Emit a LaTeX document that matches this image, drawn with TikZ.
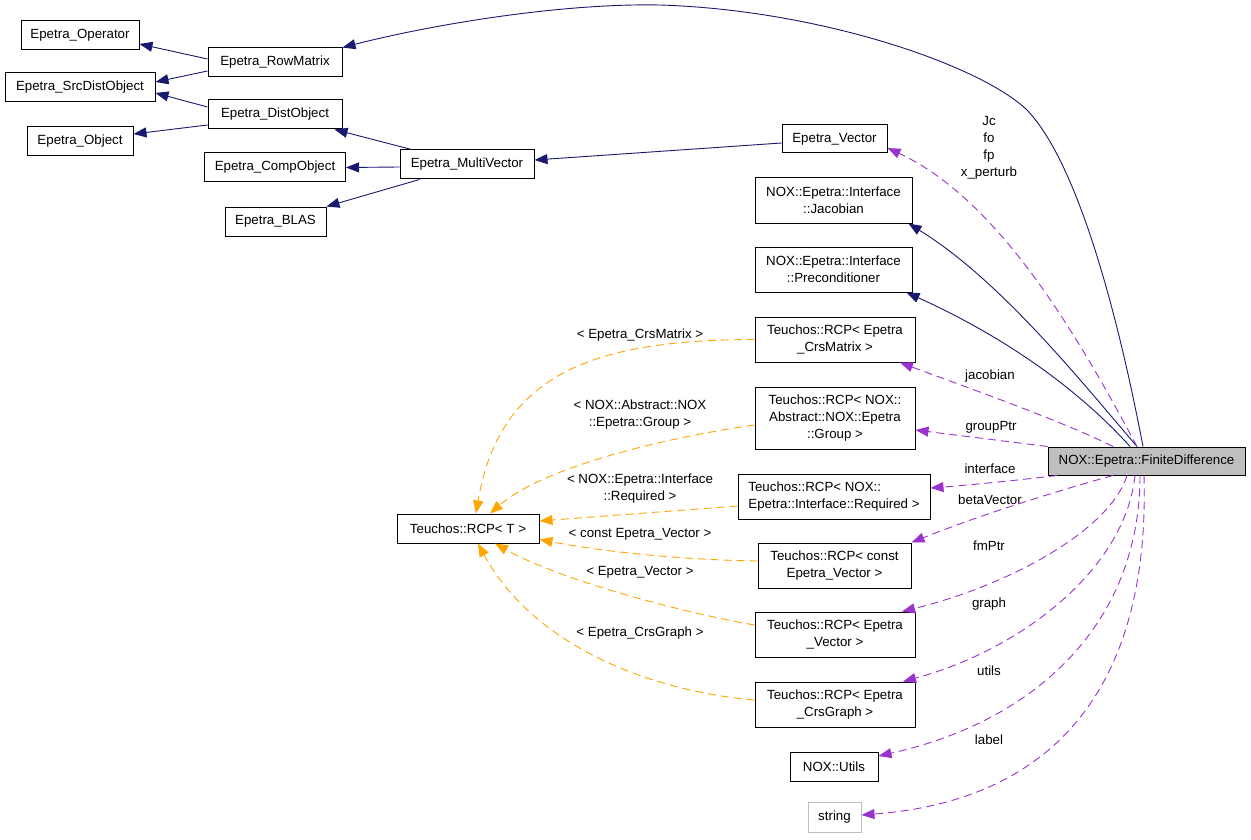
\documentclass[tikz,border=0pt]{standalone}
\usepackage{fontspec}
\setmainfont{Liberation Sans}
\usetikzlibrary{arrows.meta}
\definecolor{navy}{RGB}{25,25,112}
\definecolor{orch}{RGB}{154,50,205}
\definecolor{orng}{RGB}{255,165,0}
\definecolor{fdgray}{RGB}{191,191,191}
\begin{document}
\begin{tikzpicture}[x=1pt,y=-1pt,
 box/.style={draw=black,line width=1pt,fill=white,inner sep=0pt,align=center,font=\fontsize{13.3}{17}\selectfont},
 lbl/.style={inner sep=0pt,align=center,font=\fontsize{13.3}{17}\selectfont},
 inh/.style={draw=navy,line width=0.9pt,-{Triangle[length=13pt,width=10pt]}},
 use/.style={draw=orch,line width=0.9pt,dash pattern=on 8pt off 5pt,-{Triangle[length=13pt,width=10pt]}},
 tmpl/.style={draw=orng,line width=0.9pt,dash pattern=on 8pt off 5pt,-{Triangle[length=13pt,width=10pt]}}]
\useasboundingbox (0,0) rectangle (1251,840);
\fill[white] (0,0) rectangle (1251,840);

% nodes
\node[box,minimum width=118pt,minimum height=29pt] (op) at (80,35.5) {Epetra\_Operator};
\node[box,minimum width=134pt,minimum height=29pt] (rowm) at (275,62.5) {Epetra\_RowMatrix};
\node[box,minimum width=150pt,minimum height=29pt] (src) at (80,87.5) {Epetra\_SrcDistObject};
\node[box,minimum width=134pt,minimum height=29pt] (dist) at (275,114.5) {Epetra\_DistObject};
\node[box,minimum width=106pt,minimum height=29pt] (obj) at (80,141.5) {Epetra\_Object};
\node[box,minimum width=141pt,minimum height=29pt] (comp) at (275,167.5) {Epetra\_CompObject};
\node[box,minimum width=134pt,minimum height=29pt] (mv) at (467,164.5) {Epetra\_MultiVector};
\node[box,minimum width=101pt,minimum height=29pt] (blas) at (275.5,221.5) {Epetra\_BLAS};
\node[box,minimum width=105pt,minimum height=28pt] (evec) at (834.5,139) {Epetra\_Vector};
\node[box,minimum width=157pt,minimum height=45pt] (jac) at (833.5,200.5) {NOX::Epetra::Interface\\::Jacobian};
\node[box,minimum width=157pt,minimum height=45pt] (pre) at (833.5,269.5) {NOX::Epetra::Interface\\::Preconditioner};
\node[box,minimum width=160pt,minimum height=45pt] (crsM) at (835,339.5) {Teuchos::RCP< Epetra\\\_CrsMatrix >};
\node[box,minimum width=160pt,minimum height=62pt] (group) at (835,418) {Teuchos::RCP< NOX::\\Abstract::NOX::Epetra\\::Group >};
\node[box,align=left,minimum width=192pt,minimum height=45pt] (req) at (834,496.5) {Teuchos::RCP< NOX::\\Epetra::Interface::Required >};
\node[box,minimum width=153pt,minimum height=45pt] (cvec) at (834.5,565.5) {Teuchos::RCP< const\\Epetra\_Vector >};
\node[box,minimum width=160pt,minimum height=45pt] (rvec) at (835,634.5) {Teuchos::RCP< Epetra\\\_Vector >};
\node[box,minimum width=160pt,minimum height=45pt] (graph) at (835,704.5) {Teuchos::RCP< Epetra\\\_CrsGraph >};
\node[box,minimum width=88pt,minimum height=29pt] (utils) at (834,766.5) {NOX::Utils};
\node[box,draw=fdgray,minimum width=53pt,minimum height=30pt] (str) at (834.5,817) {string};
\node[box,minimum width=142pt,minimum height=29pt] (rcpt) at (468,528.5) {Teuchos::RCP< T >};
\node[box,fill=fdgray,minimum width=197pt,minimum height=28pt] (fd) at (1146.5,461) {NOX::Epetra::FiniteDifference};

% labels
\node[lbl] (lJc) at (989,147.5) {Jc\\fo\\fp\\x\_perturb};
\node[lbl] (ljac) at (990,376) {jacobian};
\node[lbl] (lgrp) at (991,427) {groupPtr};
\node[lbl] (lint) at (990,469) {interface};
\node[lbl] (lbeta) at (990,500) {betaVector};
\node[lbl] (lfm) at (989,546) {fmPtr};
\node[lbl] (lgraph) at (989,604) {graph};
\node[lbl] (lutils) at (989,671) {utils};
\node[lbl] (llabel) at (989,740) {label};
\node[lbl] (lCrsM) at (640,335) {< Epetra\_CrsMatrix >};
\node[lbl] (lGroup) at (640,415) {< NOX::Abstract::NOX\\::Epetra::Group >};
\node[lbl] (lReq) at (640,489) {< NOX::Epetra::Interface\\::Required >};
\node[lbl] (lCvec) at (640,534) {< const Epetra\_Vector >};
\node[lbl] (lRvec) at (640,572) {< Epetra\_Vector >};
\node[lbl] (lGraph) at (640,633) {< Epetra\_CrsGraph >};

% inheritance edges
\draw[inh] ([yshift=3.5pt]rowm.west) -- ([yshift=-8.5pt]op.east);
\draw[inh] ([yshift=-8.5pt]rowm.west) -- ([yshift=5.5pt]src.east);
\draw[inh] ([yshift=7.5pt]dist.west) -- ([yshift=-5.5pt]src.east);
\draw[inh] ([yshift=-10.5pt]dist.west) -- ([yshift=7.5pt]obj.east);
\draw[inh] ([xshift=12pt]mv.north west) -- ([xshift=-8pt]dist.south east);
\draw[inh] ([yshift=-2.5pt]mv.west) -- (comp.east);
\draw[inh] ([xshift=20pt]mv.south west) -- (blas.north east);
\draw[inh] ([yshift=-4pt]evec.west) -- ([yshift=4.5pt]mv.east);
\draw[inh] ([xshift=-3.5pt]fd.north) .. controls (1115,300) and (1075,160) .. (1027,110)
  .. controls (980,65) and (820,10) .. (660,5)
  .. controls (560,3) and (430,25) .. (rowm.north east);
\draw[inh] ([xshift=-9.5pt]fd.north) .. controls (1080,380) and (1000,280) .. ([xshift=-4pt]jac.south east);
\draw[inh] ([xshift=-16.5pt]fd.north) .. controls (1070,380) and (990,330) .. ([xshift=-6pt]pre.south east);

% usage edges
\draw[use] ([xshift=-9.5pt]fd.north) .. controls (1080,340) and (1000,200) .. ([yshift=-9pt]evec.east);
\draw[use] ([xshift=-33.5pt]fd.north) .. controls (1060,420) and (960,385) .. ([xshift=65pt]crsM.south);
\draw[use] (fd.north west) -- ([yshift=-12pt]group.east);
\draw[use] ([xshift=-89.5pt]fd.south) .. controls (1020,480) and (970,485) .. ([yshift=8.5pt]req.east);
\draw[use] ([xshift=-33.5pt]fd.south) .. controls (1060,490) and (980,515) .. (cvec.north east);
\draw[use] ([xshift=-19.5pt]fd.south) .. controls (1110,530) and (1010,585) .. ([xshift=67pt]rvec.north);
\draw[use] ([xshift=-11.5pt]fd.south) .. controls (1125,570) and (1020,650) .. ([xshift=68pt]graph.north);
\draw[use] ([xshift=-6.5pt]fd.south) .. controls (1140,620) and (1040,720) .. ([yshift=10.5pt]utils.east);
\draw[use] ([xshift=-2.5pt]fd.south) .. controls (1150,680) and (1060,800) .. ([yshift=2pt]str.east);

% template edges
\draw[tmpl] (crsM.west) .. controls (600,340) and (500,370) .. ([xshift=8pt]rcpt.north);
\draw[tmpl] ([yshift=-7pt]group.west) .. controls (650,440) and (540,470) .. ([xshift=22pt]rcpt.north);
\draw[tmpl] ([yshift=-9.5pt]req.west) -- ([yshift=7.5pt]rcpt.east);
\draw[tmpl] ([yshift=4.5pt]cvec.west) .. controls (690,560) and (610,553) .. ([yshift=-11pt]rcpt.east);
\draw[tmpl] ([yshift=9.5pt]rvec.west) .. controls (680,612) and (560,580) .. ([xshift=27pt]rcpt.south);
\draw[tmpl] ([yshift=4.5pt]graph.west) .. controls (640,690) and (530,640) .. ([xshift=10pt]rcpt.south);
\end{tikzpicture}
\end{document}
